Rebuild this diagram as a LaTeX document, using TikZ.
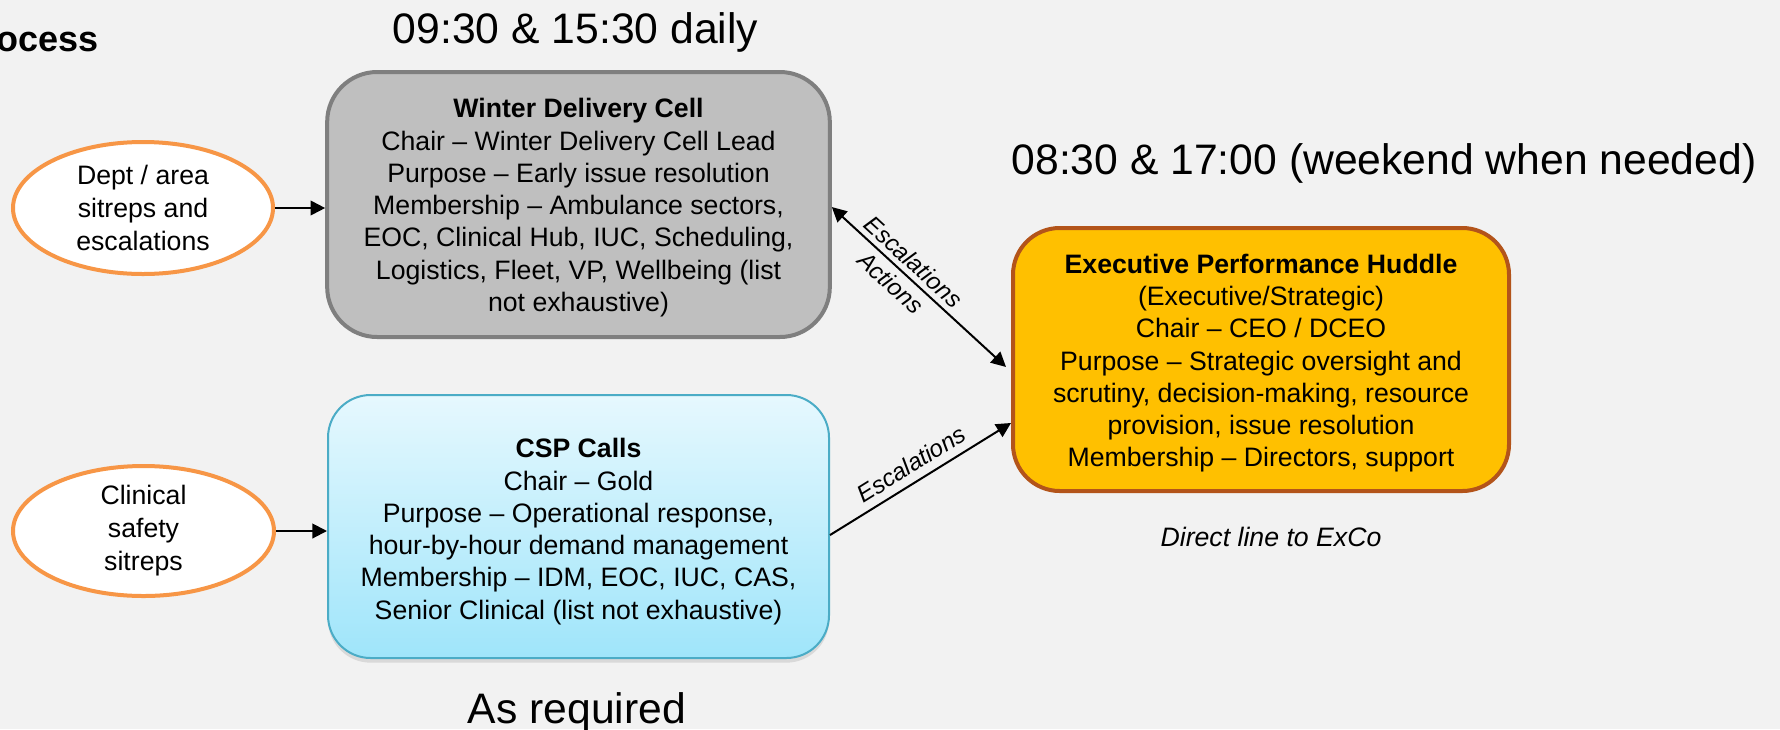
\documentclass[tikz,border=0pt]{standalone}
\usepackage{fontspec}
\setmainfont{Liberation Sans}
\usetikzlibrary{shapes.geometric,arrows.meta,shadows}
\definecolor{bgc}{HTML}{F2F2F2}
\definecolor{wdcfill}{HTML}{BFBFBF}
\definecolor{wdcline}{HTML}{7F7F7F}
\definecolor{ellline}{HTML}{F79646}
\definecolor{csptop}{HTML}{E6F8FE}
\definecolor{cspbot}{HTML}{9FE5FA}
\definecolor{cspline}{HTML}{4BACC6}
\definecolor{ephfill}{HTML}{FFC000}
\definecolor{ephline}{HTML}{B3541A}
\tikzset{mytri/.tip={Triangle[length=11pt,width=11pt]}}
\begin{document}
\begin{tikzpicture}[x=0.75pt,y=-0.75pt,
  body/.style={font=\fontsize{20}{24.2}\selectfont, align=center, text=black},
  hdr/.style={font=\fontsize{32}{38}\selectfont, inner sep=0pt, text=black},
  note/.style={font=\fontsize{20}{24}\selectfont\itshape, inner sep=0pt, text=black},
  lbl/.style={font=\fontsize{18}{21}\selectfont\itshape, text=black, sloped, inner sep=3.5pt},
  ell/.style={ellipse, draw=ellline, line width=3pt, fill=white, inner sep=0pt, body, font=\fontsize{20}{24.75}\selectfont},
  boxb/.style={rectangle, body, inner sep=0pt},
  arr/.style={-mytri, line width=1.5pt, draw=black},
  darr/.style={mytri-mytri, line width=1.5pt, draw=black}
]
\useasboundingbox (0,0) rectangle (1780,729);
\fill[bgc] (0,0) rectangle (1780,729);
\begin{scope}
\clip (0,0) rectangle (1780,729);
\node[font=\fontsize{27}{32}\selectfont\bfseries, inner sep=0pt, anchor=base west] (ttl) at (-4,51) {ocess};
\end{scope}

% headers
\node[hdr, anchor=base] (h1) at (575.5,43) {09:30 \& 15:30 daily};
\node[hdr, anchor=base] (h2) at (1384,174) {08:30 \& 17:00 (weekend when needed)};
\node[hdr, anchor=base] (h3) at (577,723) {As required};
\node[note, anchor=base] (h4) at (1271,546) {Direct line to ExCo};

% ellipses
\node[ell, minimum width=195pt, minimum height=99pt] (e1) at (143,208) {Dept / area\\sitreps and\\escalations};
\node[ell, minimum width=195.75pt, minimum height=97.5pt] (e2) at (143.5,531) {Clinical\\safety\\sitreps};

% boxes
\node[boxb, fill=wdcfill, draw=wdcline, line width=3pt, rounded corners=37.5pt,
      minimum width=377pt, minimum height=198.75pt] (wdc) at (578.5,204.5)
  {\rule{0pt}{19.2pt}\textbf{Winter Delivery Cell}\\Chair – Winter Delivery Cell Lead\\Purpose – Early issue resolution\\Membership – Ambulance sectors,\\EOC, Clinical Hub, IUC, Scheduling,\\Logistics, Fleet, VP, Wellbeing (list\\not exhaustive)};

\node[boxb, top color=csptop, bottom color=cspbot, draw=cspline, line width=1.5pt, rounded corners=32pt,
      drop shadow={opacity=0.15, shadow xshift=0pt, shadow yshift=-3.5pt, fill=black!70},
      minimum width=375.75pt, minimum height=197.25pt] (csp) at (578.5,526.5)
  {\rule{0pt}{22pt}\textbf{CSP Calls}\\Chair – Gold\\Purpose – Operational response,\\hour-by-hour demand management\\Membership – IDM, EOC, IUC, CAS,\\Senior Clinical (list not exhaustive)};

\node[boxb, fill=ephfill, draw=ephline, line width=3pt, rounded corners=35pt,
      minimum width=372pt, minimum height=197.25pt] (eph) at (1261,359.5)
  {\rule{0pt}{20pt}\textbf{Executive Performance Huddle}\\(Executive/Strategic)\\Chair – CEO / DCEO\\Purpose – Strategic oversight and\\scrutiny, decision-making, resource\\provision, issue resolution\\Membership – Directors, support};

% connectors
\draw[arr] (e1.east) -- (e1.east -| wdc.west);
\draw[arr] (e2.east) -- (e2.east -| csp.west);
\draw[darr] ([yshift=-1.9pt]wdc.east) -- ([xshift=-3.75pt,yshift=-5.6pt]eph.west)
  node[lbl, above, pos=0.41, inner sep=4pt] (l1) {Escalations}
  node[lbl, below, pos=0.40, inner sep=4.5pt] (l2) {Actions};
\draw[arr] ([yshift=-6.4pt]csp.east) -- ([yshift=-47.6pt]eph.west)
  node[lbl, above, pos=0.5, inner sep=6pt] (l3) {Escalations};
\end{tikzpicture}
\end{document}
